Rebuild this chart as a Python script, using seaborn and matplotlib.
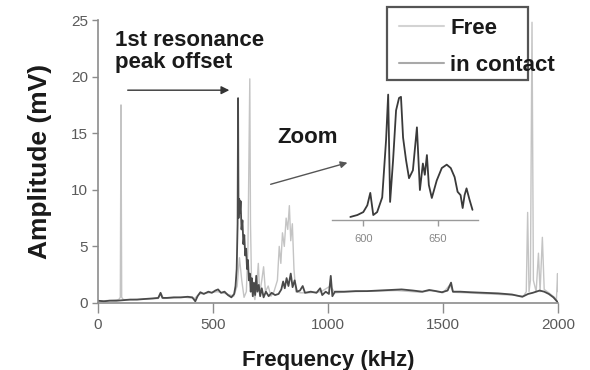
import matplotlib
matplotlib.use("Agg")
import matplotlib.pyplot as plt
from matplotlib.patches import Rectangle
import seaborn as sns

# Spectrum of the cantilever, free vs. in contact (kHz, mV)
free_khz = [0, 30, 60, 90, 97, 100, 103, 110, 150, 200, 260, 275, 285, 330, 380, 420,
            440, 480, 520, 560, 590, 605, 615, 625, 635, 645, 652, 660, 663, 667, 674,
            682, 690, 697, 703, 712, 720, 728, 740, 752, 765, 780, 788, 795, 802, 810,
            818, 825, 832, 838, 845, 852, 860, 880, 920, 970, 1010, 1030, 1100, 1200,
            1300, 1400, 1450, 1500, 1530, 1545, 1600, 1700, 1800, 1850, 1862, 1868,
            1874, 1880, 1887, 1893, 1905, 1915, 1922, 1932, 1940, 1960, 1985, 1993,
            1998, 2000]
free_mv = [0.2, 0.2, 0.25, 0.3, 0.5, 17.5, 0.5, 0.3, 0.3, 0.35, 0.4, 0.8, 0.4, 0.45,
           0.5, 0.4, 0.8, 0.9, 1.0, 0.8, 0.6, 1.5, 4.0, 2.0, 0.5, 1.0, 5.0, 19.8, 7.0,
           2.5, 1.0, 0.3, 1.5, 3.5, 0.8, 2.0, 3.2, 1.0, 1.5, 0.6, 1.0, 2.0, 5.0, 3.5,
           6.2, 5.0, 7.5, 6.5, 8.6, 5.5, 7.0, 3.0, 1.0, 0.9, 0.9, 1.0, 1.5, 0.9, 1.0,
           1.05, 1.1, 0.95, 1.1, 0.9, 1.6, 0.95, 0.9, 0.8, 0.7, 0.6, 1.0, 8.0, 1.0,
           2.0, 24.8, 2.0, 1.0, 4.4, 1.0, 5.8, 1.2, 0.9, 0.5, 0.2, 2.6, 1.0]

contact_khz = [0, 25, 50, 80, 110, 140, 170, 200, 235, 262, 272, 280, 300, 330, 360,
               390, 410, 423, 433, 445, 460, 480, 495, 510, 522, 535, 550, 565, 580,
               592, 598, 603, 607, 609, 611, 614, 617, 620, 624, 628, 632, 636, 640,
               644, 648, 652, 656, 660, 664, 668, 673, 678, 683, 688, 693, 699, 705,
               712, 720, 730, 742, 755, 770, 785, 797, 805, 812, 820, 828, 838, 846,
               855, 865, 878, 890, 900, 925, 950, 966, 975, 990, 1004, 1012, 1019, 1030,
               1070, 1120, 1170, 1220, 1270, 1320, 1370, 1410, 1440, 1470, 1495, 1520,
               1535, 1543, 1575, 1620, 1680, 1740, 1800, 1845, 1870, 1890, 1905, 1920,
               1940, 1960, 1980, 2000]
contact_mv = [0.2, 0.15, 0.2, 0.2, 0.25, 0.3, 0.3, 0.35, 0.4, 0.45, 0.9, 0.45, 0.45,
              0.5, 0.5, 0.55, 0.5, 0.15, 0.6, 0.95, 0.8, 1.0, 0.9, 1.1, 1.2, 0.9, 1.0,
              0.7, 0.5, 0.8, 1.5, 3.0, 7.0, 18.1, 7.5, 9.2, 8.0, 9.0, 6.5, 7.3, 5.2,
              6.0, 4.2, 4.8, 3.0, 3.8, 2.0, 2.6, 1.0, 2.2, 0.6, 1.8, 0.7, 2.4, 1.0,
              1.6, 0.6, 1.3, 0.5, 1.0, 0.6, 0.9, 0.7, 0.8, 1.2, 1.9, 1.3, 2.2, 1.5,
              2.6, 1.4, 2.0, 1.0, 1.1, 1.5, 0.9, 1.0, 0.9, 1.3, 0.7, 1.0, 0.8, 2.4,
              0.6, 1.0, 1.0, 1.05, 1.05, 1.1, 1.15, 1.2, 1.1, 1.0, 1.15, 1.05, 0.95,
              1.1, 1.8, 1.0, 1.0, 0.95, 0.9, 0.85, 0.75, 0.55, 0.8, 0.9, 1.0, 1.1, 1.0,
              0.8, 0.5, 0.05]

# Close-up of the in-contact resonance
zoom_khz = [591.3, 596, 600, 602.7, 604.7, 606.7, 609.3, 612.7, 615.3, 616.7, 618,
            620, 622, 624, 625.3, 626.7, 628.7, 630.7, 633.3, 636, 638, 640, 641.3,
            642.7, 644, 646, 649.3, 652.7, 656, 658.7, 661.3, 663.3, 665.3, 666.7,
            668, 669.3, 671.3, 673.3]
zoom_mv = [0.27, 0.44, 0.7, 1.3, 2.4, 0.44, 0.7, 2.0, 7.1, 11.1, 1.6, 5.3, 9.7, 10.8,
           10.9, 7.3, 5.3, 3.7, 4.4, 8.2, 2.65, 5.0, 4.0, 5.75, 3.1, 1.95, 3.5, 4.6,
           4.9, 4.6, 3.8, 2.5, 2.2, 1.06, 2.2, 2.8, 1.8, 0.9]

x_ticks = [0, 500, 1000, 1500, 2000]
y_ticks = [0, 5, 10, 15, 20, 25]
zoom_ticks = [600, 650]
series_labels = ["Free", "in contact"]

sns.set_theme(style="ticks")
plt.rcParams["font.family"] = ["Liberation Sans", "DejaVu Sans"]

W, H = 590, 370
fig = plt.figure(figsize=(W / 100, H / 100), dpi=100)
ax = fig.add_axes([98 / W, 1 - 303 / H, 460 / W, 283 / H])

sns.lineplot(x=free_khz, y=free_mv, ax=ax, color="#c4c4c4", linewidth=1.0,
             estimator=None, sort=False)
sns.lineplot(x=contact_khz, y=contact_mv, ax=ax, color="#4a4a4a", linewidth=1.3,
             estimator=None, sort=False)

ax.set_xlim(0, 2000)
ax.set_ylim(0, 25)
ax.set_xticks(x_ticks)
ax.set_yticks(y_ticks)
sns.despine(ax=ax)
for side in ("left", "bottom"):
    ax.spines[side].set_color("#8c8c8c")
    ax.spines[side].set_linewidth(1.2)
ax.tick_params(axis="both", colors="#8c8c8c", labelcolor="#5a5a5a", labelsize=11,
               width=1)
ax.tick_params(axis="x", length=7, pad=4)
ax.tick_params(axis="y", length=4, pad=3)

text_col = "#1a1a1a"
ax.set_xlabel("Frequency (kHz)", fontsize=16, fontweight="bold", color=text_col,
              labelpad=13)
ax.set_ylabel("Amplitude (mV)", fontsize=19, fontweight="bold", color=text_col,
              labelpad=14)

# annotations
ax.text(74, 24.1, "1st resonance\npeak offset", fontsize=16, fontweight="bold",
        color=text_col, ha="left", va="top", linespacing=1.05)
ax.annotate("", xy=(583, 18.8), xytext=(117, 18.8),
            arrowprops=dict(arrowstyle="-|>", color="#333333", lw=1.0,
                            mutation_scale=12))
ax.text(778, 14.6, "Zoom", fontsize=16, fontweight="bold", color=text_col,
        ha="left", va="center")
ax.annotate("", xy=(1096, 12.46), xytext=(739, 10.42),
            arrowprops=dict(arrowstyle="-|>", color="#555555", lw=1.0,
                            mutation_scale=10))

# legend with a fixed box
box = Rectangle((387 / W, 1 - 80 / H), 141 / W, 73 / H, transform=fig.transFigure,
                facecolor="white", edgecolor="#555555", linewidth=1.6, zorder=4.5,
                clip_on=False)
ax.add_artist(box)
leg = ax.legend(handles=ax.lines[:2], labels=series_labels, frameon=False,
                loc="upper left", bbox_to_anchor=(388 / W, 1 - 7 / H),
                bbox_transform=fig.transFigure, borderpad=0, handlelength=2.0,
                handletextpad=0.3, labelspacing=0.7,
                prop={"weight": "bold", "size": 16})
leg.set_zorder(5)
for ln, c in zip(leg.get_lines(), ["#d3d3d3", "#a9a9a9"]):
    ln.set_color(c)
    ln.set_linewidth(1.5)
for t in leg.get_texts():
    t.set_color(text_col)

# inset close-up
axin = fig.add_axes([332 / W, 1 - 220 / H, 146 / W, 135 / H])
sns.lineplot(x=zoom_khz, y=zoom_mv, ax=axin, color="#3a3a3a", linewidth=1.3,
             estimator=None, sort=False)
axin.set_xlim(579, 677)
axin.set_ylim(0, 11.95)
axin.patch.set_alpha(0)
for side in ("left", "top", "right"):
    axin.spines[side].set_visible(False)
axin.spines["bottom"].set_color("#9a9a9a")
axin.spines["bottom"].set_linewidth(1.0)
axin.set_yticks([])
axin.set_xticks(zoom_ticks)
axin.tick_params(axis="x", length=4, width=1, colors="#9a9a9a", labelcolor="#888888",
                 labelsize=8, pad=6)
axin.set_xlabel("")
axin.set_ylabel("")

fig.savefig("out.png", dpi=100)
